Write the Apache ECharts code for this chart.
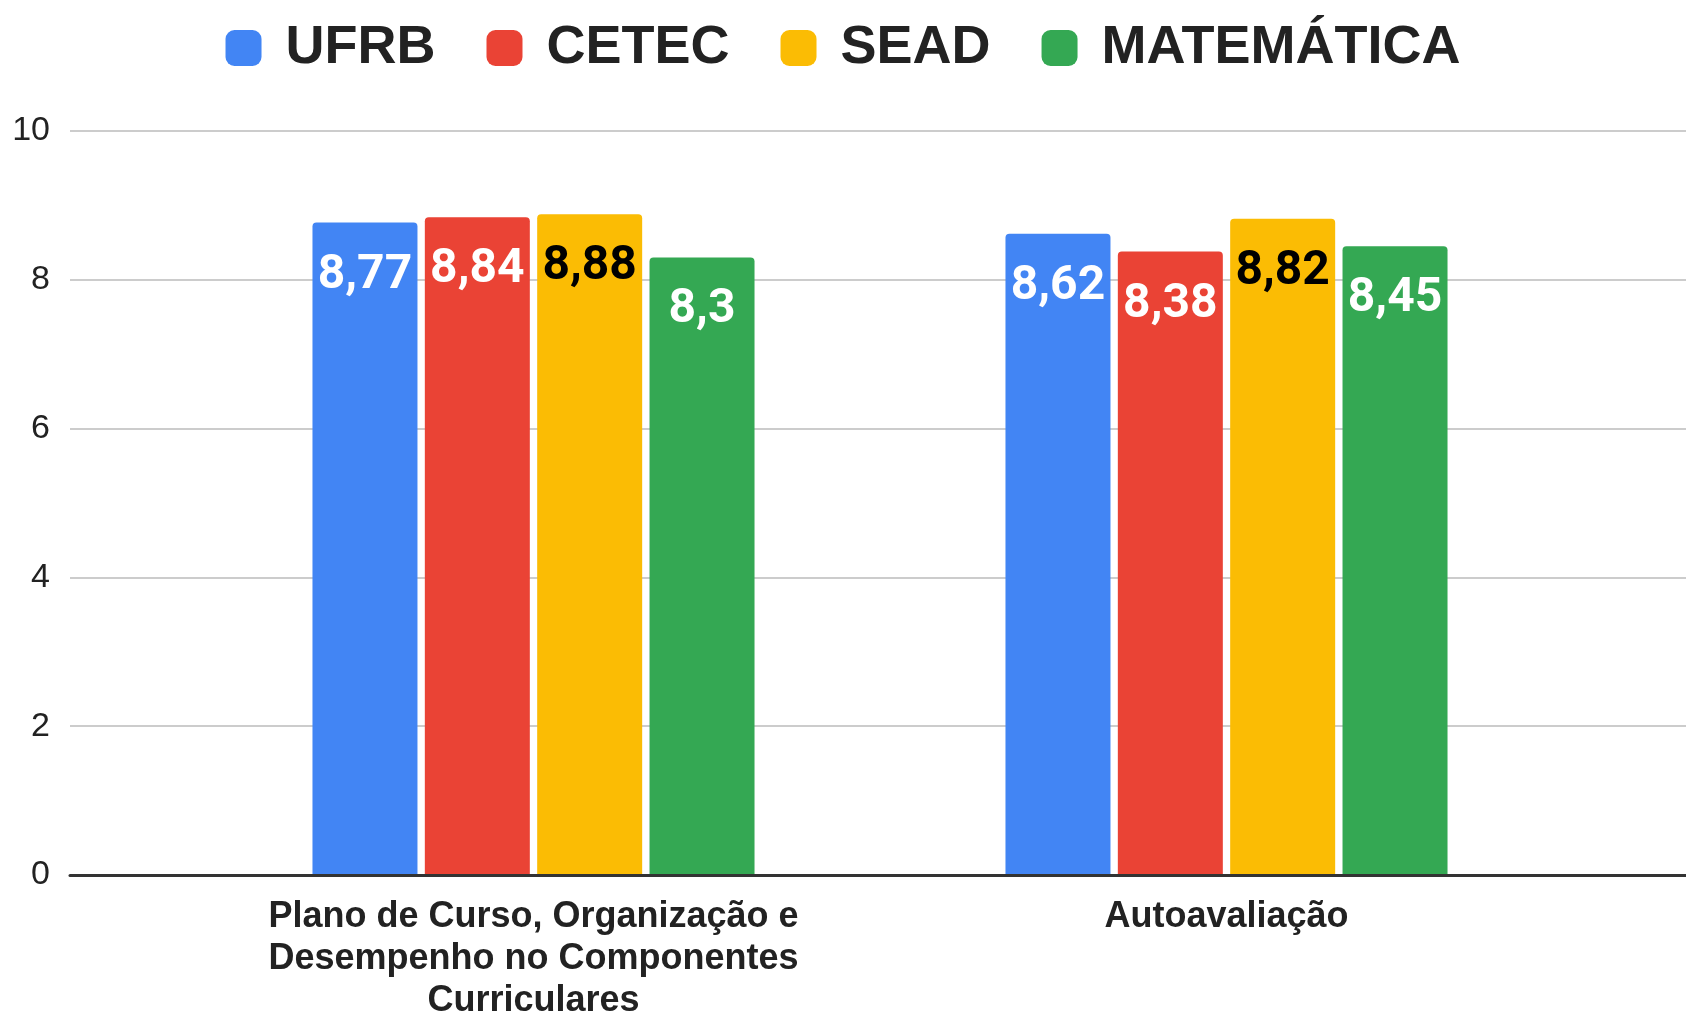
<!doctype html>
<html lang="pt-BR">
<head>
    <meta charset="utf-8">
    <title>Avaliação</title>
    <script type="text/javascript" src="https://cdn.jsdelivr.net/npm/echarts@6/dist/echarts.min.js"></script>
    <style>
        html, body { margin: 0; padding: 0; background: #ffffff; }
        #main { width: 1686px; height: 1016px; }
    </style>
</head>
<body>
<div id="main"></div>
<script type="text/javascript">
    // dados
    var categorias = ['Plano de Curso, Organização e\nDesempenho no Componentes\nCurriculares', 'Autoavaliação'];
    var nomes = ['UFRB', 'CETEC', 'SEAD', 'MATEMÁTICA'];
    var ufrb = [8.77, 8.62];
    var cetec = [8.84, 8.38];
    var sead = [8.88, 8.82];
    var matematica = [8.3, 8.45];
    var cores = ['#4285F4', '#EA4335', '#FBBC04', '#34A853'];
    var corRotulo = ['#ffffff', '#ffffff', '#000000', '#ffffff'];
    var valores = [ufrb, cetec, sead, matematica];

    var fonte = '"Liberation Sans", Arial, sans-serif';

    function serie(i) {
        return {
            name: nomes[i],
            type: 'bar',
            xAxisIndex: 1,
            yAxisIndex: 1,
            data: valores[i],
            barWidth: 105,
            barGap: '7%',
            itemStyle: { color: cores[i], borderRadius: [4, 4, 0, 0] },
            label: {
                show: true,
                position: 'insideTop',
                distance: 29,
                color: corRotulo[i],
                fontFamily: 'Roboto, sans-serif',
                fontWeight: 'bold',
                fontSize: 48,
                formatter: function (p) { return String(p.value).replace('.', ','); }
            }
        };
    }

    var chart = echarts.init(document.getElementById('main'));
    var option = {
        backgroundColor: '#ffffff',
        animation: false,
        legend: {
            top: 16,
            left: 'center',
            itemWidth: 36,
            itemHeight: 36,
            itemGap: 51,
            icon: 'roundRect',
            textStyle: {
                fontFamily: fonte,
                fontWeight: 'bold',
                fontSize: 54,
                color: '#222222',
                padding: [0, 0, 0, 19]
            },
            data: nomes
        },
        grid: [
            { left: 70, right: 0, top: 131, bottom: 141, outerBoundsMode: 'none' },
            { left: 187, right: 113, top: 131, bottom: 141, outerBoundsMode: 'none' }
        ],
        xAxis: [
            {
                type: 'category',
                gridIndex: 0,
                data: ['', ''],
                axisLine: { lineStyle: { color: '#333333', width: 3 } },
                axisTick: { show: false },
                axisLabel: { show: false },
                z: 5
            },
            {
                type: 'category',
                gridIndex: 1,
                data: categorias,
                axisLine: { show: false },
                axisTick: { show: false },
                axisLabel: {
                    fontFamily: fonte,
                    fontWeight: 'bold',
                    fontSize: 36,
                    lineHeight: 42,
                    color: '#222222',
                    margin: 21,
                    interval: 0
                }
            }
        ],
        yAxis: [
            {
                type: 'value',
                gridIndex: 0,
                min: 0,
                max: 10,
                interval: 2,
                axisLine: { show: false },
                axisTick: { show: false },
                axisLabel: { fontFamily: fonte, fontSize: 34, color: '#222222', margin: 20 },
                splitLine: { lineStyle: { color: '#cccccc', width: 2 } }
            },
            {
                type: 'value',
                gridIndex: 1,
                min: 0,
                max: 10,
                interval: 2,
                show: false,
                splitLine: { show: false }
            }
        ],
        series: [serie(0), serie(1), serie(2), serie(3)]
    };
    chart.setOption(option);
</script>
</body>
</html>
